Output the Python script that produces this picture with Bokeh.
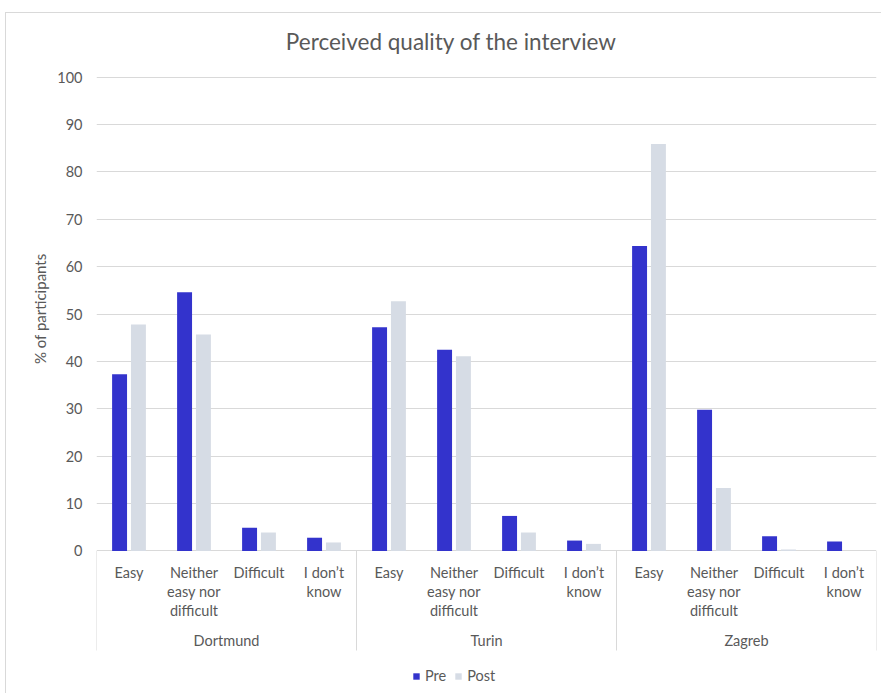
from bokeh.plotting import figure
from bokeh.models import (FactorRange, ColumnDataSource, FixedTicker, Legend,
                          LegendItem, Title, Range1d)
from bokeh.transform import dodge
from bokeh.core.properties import value
from bokeh.embed import file_html
from bokeh.resources import INLINE

# ---- data -----------------------------------------------------------------
cities = ["Dortmund", "Turin", "Zagreb"]
answers = ["Easy", "Neither easy nor difficult", "Difficult", "I don’t know"]
answer_labels = ["Easy", "Neither\neasy nor\ndifficult", "Difficult", "I don’t\nknow"]
pre = [37.3, 54.6, 4.9, 2.8,
       47.2, 42.5, 7.4, 2.2,
       64.4, 29.8, 3.1, 2.0]
post = [47.8, 45.7, 3.9, 1.8,
        52.7, 41.1, 3.9, 1.5,
        85.9, 13.3, 0.3, 0.0]
y_ticks = list(range(0, 101, 10))
series_names = ["Pre", "Post"]
title_text = "Perceived quality of the interview"
y_label = "% of participants"

# ---- style ----------------------------------------------------------------
FONT = "Lato"
TXT = "#595959"
GRID = "#d9d9d9"
PRE_COLOR = "#3333cc"
POST_COLOR = "#d6dce5"
FS = "14.5px"

factors = [(c, a) for c in cities for a in answers]
src = ColumnDataSource(data=dict(x=factors, pre=pre, post=post))

p = figure(
    x_range=FactorRange(*factors, factor_padding=0, group_padding=0,
                        subgroup_padding=0, range_padding=0),
    y_range=Range1d(-30.08, 113.45),
    width=875, height=680,
    output_backend="svg", toolbar_location=None, title=None,
    x_axis_location=None,
    min_border_left=90, min_border_right=5,
    min_border_top=0, min_border_bottom=0,
)
p.margin = (13, 0, 0, 6)
p.styles = {"outline": "1px solid #d9d9d9"}
p.outline_line_color = None
p.background_fill_color = "white"
p.border_fill_color = "white"

# y axis: labels only, no line or ticks
yax = p.yaxis[0]
yax.ticker = FixedTicker(ticks=y_ticks)
yax.axis_line_color = None
yax.major_tick_line_color = None
yax.minor_tick_line_color = None
yax.major_tick_out = 0
yax.major_tick_in = 0
yax.major_label_standoff = 14
yax.major_label_text_font = FONT
yax.major_label_text_font_size = FS
yax.major_label_text_color = TXT

p.xgrid.visible = False
p.ygrid.grid_line_color = GRID
p.ygrid.grid_line_width = 1

# y axis title, placed alongside the 0-100 span
p.add_layout(Title(text=y_label, align="right", offset=240, standoff=12,
                   text_font=FONT, text_font_size="15px",
                   text_font_style="normal", text_color=TXT), "left")

# bars
r_pre = p.vbar(x=dodge("x", -0.145, range=p.x_range), top="pre", width=0.23,
               source=src, fill_color=PRE_COLOR, line_color=None)
r_post = p.vbar(x=dodge("x", 0.145, range=p.x_range), top="post", width=0.23,
                source=src, fill_color=POST_COLOR, line_color=None)

# category labels (one text row per line)
lab = dict(x=[], y=[], text=[])
for c in cities:
    for a, lbl in zip(answers, answer_labels):
        for i, line in enumerate(lbl.split("\n")):
            lab["x"].append((c, a))
            lab["y"].append(-4.54 - 4.01 * i)
            lab["text"].append(line)
p.text(x="x", y="y", text="text", source=ColumnDataSource(lab),
       text_font=value(FONT), text_font_size=FS, text_color=TXT,
       text_align="center", text_baseline="middle")

# city labels
p.text(x=cities, y=[-18.9] * len(cities), text=cities,
       text_font=value(FONT), text_font_size=FS, text_color=TXT,
       text_align="center", text_baseline="middle")

# group separators
first = ColumnDataSource(dict(x=[(c, answers[0]) for c in cities]))
p.segment(x0=dodge("x", -0.5, range=p.x_range), x1=dodge("x", -0.5, range=p.x_range),
          y0=0, y1=-21.0, source=first, line_color=GRID, line_width=1)
last = ColumnDataSource(dict(x=[(cities[-1], answers[-1])]))
p.segment(x0=dodge("x", 0.5, range=p.x_range), x1=dodge("x", 0.5, range=p.x_range),
          y0=0, y1=-21.0, source=last, line_color=GRID, line_width=1)

# chart title
p.text(x=[5.46], y=[107.5], text=[title_text],
       text_font=value(FONT), text_font_size="22.5px", text_color=TXT,
       text_align="center", text_baseline="middle")

legend = Legend(
    items=[LegendItem(label=series_names[0], renderers=[r_pre]),
           LegendItem(label=series_names[1], renderers=[r_post])],
    orientation="horizontal", location=(316, 9),
    glyph_width=8, glyph_height=8, label_standoff=5, spacing=8,
    padding=0, margin=0, border_line_color=None, background_fill_alpha=0,
    label_text_font=FONT, label_text_font_size=FS, label_text_color=TXT,
)
p.add_layout(legend)

open("out.html", "w").write(file_html(p, INLINE))
